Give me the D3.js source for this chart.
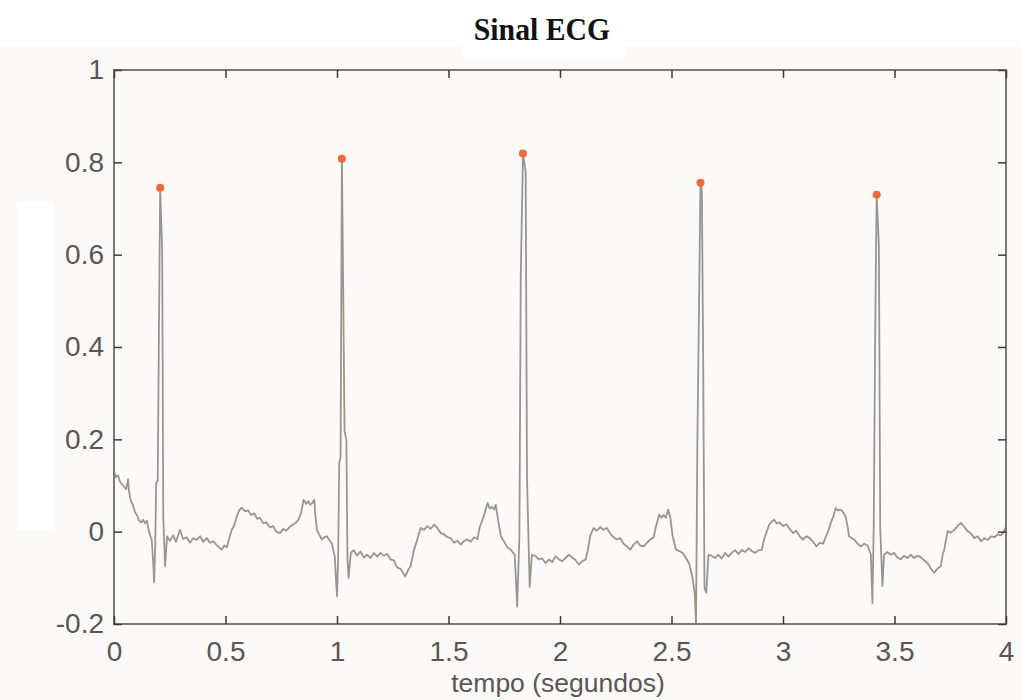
<!DOCTYPE html>
<html>
<head>
<meta charset="utf-8">
<script src="https://cdn.jsdelivr.net/npm/d3@7"></script>
<style>
  html, body { margin: 0; padding: 0; background: #ffffff; }
  svg { display: block; }
</style>
</head>
<body>
<div id="chart"></div>
<script>
// Sinal ECG - pares [tempo (s), amplitude]
const ecg = [
  [0.000, 0.130], [0.009, 0.118], [0.018, 0.122], [0.027, 0.108], [0.040, 0.100],
  [0.054, 0.092], [0.063, 0.113], [0.067, 0.088], [0.076, 0.066], [0.085, 0.058],
  [0.094, 0.042], [0.103, 0.036], [0.112, 0.024], [0.121, 0.020], [0.130, 0.026],
  [0.139, 0.018], [0.148, 0.024], [0.155, 0.004], [0.162, -0.008], [0.169, -0.017],
  [0.175, -0.060], [0.180, -0.110], [0.185, -0.030], [0.189, 0.106], [0.196, 0.110],
  [0.203, 0.520], [0.207, 0.745], [0.216, 0.610], [0.221, 0.030], [0.229, -0.075],
  [0.238, -0.010], [0.251, -0.020], [0.265, -0.008], [0.278, -0.022], [0.296, 0.004],
  [0.310, -0.016], [0.326, -0.012], [0.341, -0.024], [0.355, -0.014], [0.371, -0.018],
  [0.386, -0.010], [0.400, -0.022], [0.416, -0.014], [0.431, -0.024], [0.446, -0.021],
  [0.462, -0.030], [0.483, -0.039], [0.494, -0.030], [0.506, -0.034], [0.516, -0.016],
  [0.528, 0.004], [0.539, 0.014], [0.551, 0.033], [0.561, 0.046], [0.573, 0.052],
  [0.588, 0.044], [0.602, 0.046], [0.615, 0.036], [0.629, 0.040], [0.642, 0.028],
  [0.655, 0.030], [0.669, 0.018], [0.682, 0.020], [0.700, 0.009], [0.714, 0.012],
  [0.727, 0.000], [0.745, -0.003], [0.759, 0.006], [0.772, 0.002], [0.790, 0.011],
  [0.804, 0.016], [0.817, 0.020], [0.827, 0.026], [0.839, 0.040], [0.850, 0.069],
  [0.862, 0.060], [0.871, 0.066], [0.880, 0.058], [0.889, 0.062], [0.898, 0.069],
  [0.902, 0.040], [0.910, 0.004], [0.920, -0.006], [0.932, -0.017], [0.943, -0.012],
  [0.955, -0.010], [0.965, -0.018], [0.977, -0.025], [0.983, -0.040], [0.990, -0.053],
  [0.995, -0.100], [1.000, -0.140], [1.005, -0.060], [1.010, 0.150], [1.016, 0.160],
  [1.022, 0.808], [1.034, 0.217], [1.042, 0.200], [1.047, -0.060], [1.052, -0.100],
  [1.062, -0.046], [1.075, -0.040], [1.090, -0.052], [1.105, -0.043], [1.120, -0.056],
  [1.135, -0.050], [1.150, -0.057], [1.165, -0.046], [1.180, -0.054], [1.195, -0.046],
  [1.210, -0.052], [1.225, -0.048], [1.240, -0.060], [1.255, -0.062], [1.270, -0.078],
  [1.285, -0.080], [1.306, -0.097], [1.320, -0.082], [1.330, -0.075], [1.345, -0.040],
  [1.360, -0.017], [1.375, 0.008], [1.390, 0.004], [1.405, 0.012], [1.420, 0.006],
  [1.435, 0.015], [1.450, 0.008], [1.465, -0.003], [1.480, -0.006], [1.495, -0.012],
  [1.510, -0.014], [1.525, -0.024], [1.540, -0.020], [1.555, -0.028], [1.570, -0.020],
  [1.585, -0.017], [1.600, -0.022], [1.615, -0.012], [1.630, -0.016], [1.640, 0.010],
  [1.650, 0.022], [1.665, 0.045], [1.675, 0.062], [1.685, 0.050], [1.695, 0.054],
  [1.705, 0.048], [1.712, 0.058], [1.722, 0.026], [1.735, -0.010], [1.750, -0.022],
  [1.765, -0.035], [1.780, -0.039], [1.790, -0.046], [1.797, -0.050], [1.808, -0.162],
  [1.818, -0.010], [1.824, 0.553], [1.834, 0.819], [1.846, 0.780], [1.852, 0.117],
  [1.864, -0.120], [1.874, -0.050], [1.890, -0.053], [1.905, -0.060], [1.920, -0.058],
  [1.935, -0.068], [1.950, -0.060], [1.965, -0.066], [1.980, -0.053], [1.995, -0.060],
  [2.010, -0.064], [2.025, -0.057], [2.040, -0.050], [2.055, -0.056], [2.070, -0.062],
  [2.085, -0.071], [2.100, -0.064], [2.115, -0.060], [2.125, -0.040], [2.135, -0.010],
  [2.150, 0.008], [2.165, 0.002], [2.180, 0.010], [2.195, 0.004], [2.210, 0.008],
  [2.225, -0.004], [2.240, -0.012], [2.255, -0.017], [2.270, -0.014], [2.285, -0.026],
  [2.300, -0.032], [2.315, -0.039], [2.330, -0.028], [2.345, -0.021], [2.360, -0.030],
  [2.375, -0.032], [2.390, -0.024], [2.405, -0.017], [2.420, -0.012], [2.430, 0.011],
  [2.445, 0.037], [2.455, 0.030], [2.465, 0.036], [2.475, 0.030], [2.485, 0.048],
  [2.495, 0.030], [2.505, -0.010], [2.520, -0.039], [2.535, -0.042], [2.550, -0.046],
  [2.565, -0.057], [2.580, -0.070], [2.593, -0.097], [2.604, -0.133], [2.610, -0.200],
  [2.616, 0.193], [2.630, 0.756], [2.636, 0.740], [2.642, 0.377], [2.648, -0.122],
  [2.656, -0.132], [2.666, -0.050], [2.680, -0.052], [2.695, -0.057], [2.710, -0.050],
  [2.725, -0.058], [2.740, -0.046], [2.755, -0.054], [2.770, -0.046], [2.785, -0.040],
  [2.800, -0.048], [2.815, -0.040], [2.830, -0.044], [2.845, -0.036], [2.860, -0.042],
  [2.875, -0.046], [2.890, -0.040], [2.905, -0.040], [2.915, -0.017], [2.927, 0.000],
  [2.938, 0.015], [2.950, 0.022], [2.960, 0.026], [2.972, 0.018], [2.985, 0.020],
  [3.000, 0.012], [3.015, 0.016], [3.030, 0.006], [3.045, -0.003], [3.060, 0.002],
  [3.075, -0.010], [3.090, -0.017], [3.105, -0.010], [3.120, -0.014], [3.135, -0.022],
  [3.150, -0.032], [3.165, -0.024], [3.180, -0.026], [3.193, -0.010], [3.205, 0.004],
  [3.214, 0.019], [3.225, 0.032], [3.236, 0.051], [3.245, 0.046], [3.255, 0.048],
  [3.267, 0.044], [3.281, 0.033], [3.290, 0.010], [3.296, -0.010], [3.308, -0.014],
  [3.319, -0.017], [3.334, -0.026], [3.349, -0.032], [3.364, -0.026], [3.379, -0.030],
  [3.394, -0.050], [3.401, -0.155], [3.407, 0.019], [3.413, 0.409], [3.420, 0.730],
  [3.430, 0.620], [3.436, 0.008], [3.446, -0.118], [3.453, -0.050], [3.468, -0.044],
  [3.483, -0.050], [3.498, -0.046], [3.513, -0.056], [3.528, -0.060], [3.543, -0.052],
  [3.558, -0.057], [3.573, -0.050], [3.588, -0.057], [3.603, -0.052], [3.618, -0.055],
  [3.633, -0.062], [3.648, -0.068], [3.663, -0.080], [3.678, -0.089], [3.693, -0.080],
  [3.708, -0.075], [3.716, -0.050], [3.723, -0.039], [3.738, 0.001], [3.753, -0.002],
  [3.768, 0.004], [3.783, 0.012], [3.798, 0.019], [3.813, 0.010], [3.828, 0.001],
  [3.843, -0.004], [3.858, -0.014], [3.873, -0.010], [3.888, -0.021], [3.903, -0.014],
  [3.918, -0.018], [3.933, -0.010], [3.948, -0.012], [3.963, -0.006], [3.978, -0.008],
  [3.990, 0.000], [4.000, 0.011]
];

// picos R marcados
const rPeaks = [[0.207, 0.745], [1.022, 0.808], [1.834, 0.819], [2.630, 0.756], [3.420, 0.730]];

const xTicks = [0, 0.5, 1, 1.5, 2, 2.5, 3, 3.5, 4];
const yTicks = [-0.2, 0, 0.2, 0.4, 0.6, 0.8, 1];
const titulo = "Sinal ECG";
const xLabel = "tempo (segundos)";

const width = 1021, height = 700;
const plotL = 114, plotR = 1006, plotT = 70, plotB = 624;

const svg = d3.select("#chart").append("svg")
  .attr("width", width)
  .attr("height", height);

// fundo (levemente off-white como na imagem original)
svg.append("rect").attr("width", width).attr("height", height).attr("fill", "#ffffff");
svg.append("rect").attr("y", 46).attr("width", width).attr("height", height - 46).attr("fill", "#fbfaf9");
svg.append("rect").attr("x", 462).attr("y", 46).attr("width", 163).attr("height", 11).attr("fill", "#ffffff");
svg.append("rect").attr("x", 17).attr("y", 202).attr("width", 37).attr("height", 328).attr("fill", "#ffffff");

const x = d3.scaleLinear().domain([0, 4]).range([plotL, plotR]);
const y = d3.scaleLinear().domain([-0.2, 1]).range([plotB, plotT]);

svg.append("defs").append("clipPath").attr("id", "plot")
  .append("rect").attr("x", plotL).attr("y", plotT)
  .attr("width", plotR - plotL).attr("height", plotB - plotT + 1);

// linha do sinal
const line = d3.line().x(d => x(d[0])).y(d => y(d[1]));
svg.append("path")
  .datum(ecg)
  .attr("clip-path", "url(#plot)")
  .attr("fill", "none")
  .attr("stroke", "#9b958f")
  .attr("stroke-width", 1.8)
  .attr("stroke-linejoin", "round")
  .attr("d", line);

// pontos dos picos
svg.selectAll("circle.peak")
  .data(rPeaks)
  .enter().append("circle")
  .attr("class", "peak")
  .attr("cx", d => x(d[0]))
  .attr("cy", d => y(d[1]))
  .attr("r", 4)
  .attr("fill", "#f06a3a");

// caixa dos eixos
svg.append("rect")
  .attr("x", plotL).attr("y", plotT)
  .attr("width", plotR - plotL).attr("height", plotB - plotT)
  .attr("fill", "none")
  .attr("stroke", "#7d7672")
  .attr("stroke-width", 2);

const fmt = d => String(+d.toFixed(1));

function styleAxis(g) {
  g.select(".domain").remove();
  g.selectAll(".tick line").attr("stroke", "#3f3a37").attr("stroke-width", 1.5);
  g.selectAll(".tick text")
    .attr("fill", "#5b5653")
    .style("font-family", "'Liberation Sans', Arial, sans-serif")
    .style("font-size", "28px");
}

svg.append("g")
  .attr("transform", `translate(0,${plotB})`)
  .call(d3.axisBottom(x).tickValues(xTicks).tickFormat(fmt).tickSizeInner(-8).tickSizeOuter(0).tickPadding(17))
  .call(styleAxis);

svg.append("g")
  .attr("transform", `translate(0,${plotT})`)
  .call(d3.axisTop(x).tickValues(xTicks).tickFormat("").tickSizeInner(-8).tickSizeOuter(0))
  .call(styleAxis);

svg.append("g")
  .attr("transform", `translate(${plotL},0)`)
  .call(d3.axisLeft(y).tickValues(yTicks).tickFormat(fmt).tickSizeInner(-8).tickSizeOuter(0).tickPadding(10))
  .call(styleAxis);

svg.append("g")
  .attr("transform", `translate(${plotR},0)`)
  .call(d3.axisRight(y).tickValues(yTicks).tickFormat("").tickSizeInner(-8).tickSizeOuter(0))
  .call(styleAxis);

// titulo
svg.append("text")
  .attr("transform", "translate(542,40) scale(0.93,1)")
  .attr("text-anchor", "middle")
  .style("font-family", "'Liberation Serif', 'Times New Roman', serif")
  .style("font-weight", "bold")
  .style("font-size", "32px")
  .attr("fill", "#111")
  .text(titulo);

// rotulo do eixo x
svg.append("text")
  .attr("x", 558)
  .attr("y", 692)
  .attr("text-anchor", "middle")
  .style("font-family", "'Liberation Sans', Arial, sans-serif")
  .style("font-size", "26.5px")
  .attr("fill", "#5b5653")
  .text(xLabel);
</script>
</body>
</html>
